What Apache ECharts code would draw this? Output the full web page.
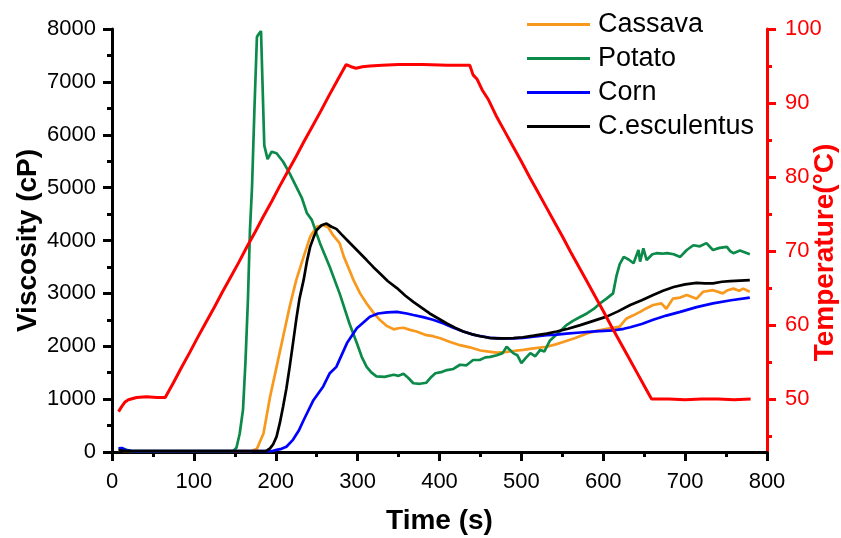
<!DOCTYPE html>
<html>
<head>
<meta charset="utf-8">
<title>Viscosity and temperature</title>
<script src="https://cdn.jsdelivr.net/npm/echarts@6/dist/echarts.min.js"></script>
<style>
  html, body { margin: 0; padding: 0; background: #fff; }
  #chart { width: 841px; height: 538px; }
</style>
</head>
<body>
<div id="chart"></div>
<script>
// [time (s), viscosity (cP)]
const cassava = [[8, 30], [15, 20], [100, 15], [170, 15], [177, 60], [185, 350], [193, 1040], [201, 1610],
  [209, 2180], [217, 2750], [225, 3250], [234, 3690], [242, 4070], [250, 4260], [258, 4290], [264, 4250],
  [270, 4100], [278, 3950], [283, 3700], [290, 3440], [295, 3250], [303, 3000], [311, 2810], [319, 2640],
  [327, 2500], [336, 2380], [344, 2320], [350, 2340], [356, 2350], [364, 2310], [372, 2280], [384, 2210],
  [392, 2190], [401, 2150], [413, 2080], [425, 2020], [437, 1980], [450, 1920], [460, 1900], [470, 1880],
  [480, 1890], [490, 1910], [502, 1930], [515, 1960], [531, 1990], [543, 2040], [551, 2080], [565, 2150],
  [580, 2240], [592, 2290], [604, 2330], [612, 2350], [620, 2370], [628, 2520], [636, 2580], [645, 2650],
  [653, 2720], [661, 2780], [671, 2810], [677, 2710], [685, 2900], [694, 2920], [702, 2970], [714, 2900],
  [722, 3030], [734, 3060], [746, 3000], [752, 3060], [759, 3090], [766, 3050], [771, 3090], [779, 3030]]

const potato = [[8, 60], [12, 70], [18, 40], [25, 15], [100, 15], [148, 15], [152, 80], [156, 350], [160, 800],
  [163, 1700], [166, 2870], [168.5, 4200], [171, 5000], [174, 6500], [177, 7850], [179, 7900], [182, 7960],
  [186, 5800], [190, 5540], [195, 5680], [201, 5650], [209, 5490], [217, 5270], [225, 5020], [232, 4800],
  [238, 4520], [244, 4390], [254, 3950], [266, 3500], [278, 3000], [290, 2430], [299, 2060], [305, 1800],
  [311, 1610], [317, 1500], [323, 1430], [333, 1420], [344, 1460], [350, 1440], [356, 1480], [362, 1400],
  [368, 1300], [376, 1290], [384, 1310], [390, 1420], [395, 1490], [402, 1510], [409, 1550], [417, 1570],
  [425, 1650], [433, 1640], [441, 1740], [449, 1740], [456, 1790], [462, 1800], [470, 1830], [477, 1870],
  [482, 1990], [490, 1870], [495, 1830], [500, 1680], [506, 1790], [511, 1870], [517, 1810], [523, 1930],
  [528, 1900], [535, 2110], [545, 2250], [555, 2400], [563, 2480], [570, 2540], [580, 2620], [588, 2700],
  [596, 2810], [604, 2900], [612, 3000], [616, 3320], [620, 3550], [625, 3690], [631, 3640], [637, 3570],
  [643, 3820], [645, 3600], [649, 3850], [653, 3630], [660, 3740], [665, 3760], [672, 3750], [678, 3760],
  [686, 3740], [694, 3690], [702, 3820], [710, 3910], [718, 3890], [726, 3950], [734, 3820], [742, 3860],
  [751, 3880], [755, 3800], [759, 3760], [767, 3810], [779, 3740]]

const corn = [[8, 70], [12, 75], [17, 30], [25, 15], [195, 15], [201, 40], [207, 60], [213, 100], [221, 230],
  [228, 400], [234, 600], [246, 980], [258, 1240], [266, 1490], [274, 1610], [287, 2060], [299, 2340],
  [315, 2560], [325, 2620], [336, 2640], [348, 2650], [360, 2620], [368, 2590], [380, 2550], [392, 2500],
  [405, 2430], [417, 2350], [429, 2280], [441, 2220], [450, 2190], [462, 2160], [476, 2150], [490, 2150],
  [502, 2160], [515, 2180], [531, 2210], [543, 2220], [555, 2240], [572, 2260], [590, 2280], [612, 2300],
  [625, 2330], [633, 2360], [647, 2420], [661, 2500], [677, 2580], [694, 2650], [714, 2740], [734, 2810],
  [756, 2870], [779, 2920]]

const esculentus = [[8, 30], [15, 20], [100, 15], [188, 15], [193, 70], [197, 150], [201, 290], [205, 550],
  [209, 860], [213, 1200], [217, 1610], [221, 2050], [225, 2500], [229, 2900], [234, 3250], [238, 3600],
  [242, 3880], [246, 4050], [250, 4200], [256, 4290], [262, 4320], [268, 4260], [274, 4220], [280, 4120],
  [287, 4010], [299, 3820], [311, 3630], [319, 3500], [327, 3380], [337, 3230], [348, 3100], [358, 2960],
  [368, 2840], [378, 2730], [388, 2620], [398, 2530], [409, 2430], [419, 2350], [429, 2280], [439, 2230],
  [450, 2190], [460, 2160], [470, 2150], [480, 2150], [490, 2155], [502, 2170], [515, 2200], [531, 2240],
  [543, 2280], [557, 2330], [572, 2400], [588, 2480], [604, 2560], [618, 2660], [633, 2780], [647, 2870],
  [661, 2970], [673, 3050], [686, 3120], [700, 3170], [714, 3200], [724, 3190], [734, 3190], [745, 3220],
  [755, 3230], [767, 3240], [779, 3250]]

// [time (s), temperature (°C)]
const temperature = [[8, 48.3], [12, 49.0], [16, 49.6], [20, 49.9], [30, 50.2], [42, 50.3], [55, 50.2],
  [65, 50.2], [75, 52.2], [85, 54.3], [95, 56.3], [105, 58.4], [115, 60.4], [125, 62.4], [135, 64.5],
  [145, 66.5], [155, 68.5], [165, 70.6], [175, 72.6], [185, 74.7], [195, 76.7], [205, 78.8], [215, 80.8],
  [225, 82.8], [235, 84.9], [245, 86.9], [255, 88.9], [265, 91.0], [275, 93.0], [286, 95.2], [292, 94.9],
  [298, 94.7], [306, 94.9], [315, 95.0], [330, 95.1], [350, 95.2], [380, 95.2], [410, 95.1], [437, 95.1],
  [441, 93.8], [446, 93.2], [452, 91.8], [460, 90.4], [470, 88.1], [480, 86.1], [490, 84.1], [500, 82.1],
  [510, 80.0], [520, 78.0], [530, 76.0], [540, 74.0], [550, 72.0], [560, 69.9], [570, 67.9], [580, 65.9],
  [590, 63.9], [600, 61.9], [610, 59.8], [620, 57.8], [630, 55.8], [640, 53.8], [650, 51.8], [659, 50.0],
  [680, 50.0], [700, 49.9], [720, 50.0], [740, 50.0], [760, 49.9], [780, 50.0]]

const tempTicks = [50, 60, 70, 80, 90, 100]
const tempMinorTicks = [45, 55, 65, 75, 85, 95]

const font = 'Liberation Sans, Arial, sans-serif'
const colors = ['#f8981d', '#0b8a4a', '#0000ff', '#000000']

const chart = echarts.init(document.getElementById('chart'))

const lineSeries = (name, data, color, width) => ({
  name,
  type: 'line',
  data,
  showSymbol: false,
  symbol: 'none',
  lineStyle: { color, width: width || 2.7 },
  itemStyle: { color },
  animation: false
})

chart.setOption({
  backgroundColor: '#fff',
  grid: { left: 112, right: 74, top: 29, bottom: 86, outerBoundsMode: 'none', containLabel: false },
  legend: {
    orient: 'vertical',
    left: 522,
    top: 6,
    icon: 'rect',
    itemWidth: 63,
    itemHeight: 3,
    itemGap: 7,
    textStyle: { fontFamily: font, fontSize: 27, color: '#000', padding: [0, 0, 0, 3] },
    data: ['Cassava', 'Potato', 'Corn', 'C.esculentus']
  },
  xAxis: {
    type: 'value',
    min: 0,
    max: 800,
    interval: 100,
    name: 'Time (s)',
    nameLocation: 'middle',
    nameGap: 55,
    nameMoveOverlap: false,
    nameTextStyle: { fontFamily: font, fontSize: 28, fontWeight: 'bold', color: '#000' },
    axisLine: { onZero: false, lineStyle: { color: '#000', width: 3 } },
    axisTick: { length: 9, lineStyle: { color: '#000', width: 3 } },
    minorTick: { show: true, splitNumber: 2, length: 5, lineStyle: { color: '#000', width: 3 } },
    axisLabel: { fontFamily: font, fontSize: 22, color: '#000', margin: 19, formatter: v => String(v) },
    splitLine: { show: false }
  },
  yAxis: [{
    type: 'value',
    min: 0,
    max: 8000,
    interval: 1000,
    name: 'Viscosity (cP)',
    nameLocation: 'middle',
    nameGap: 70,
    nameMoveOverlap: false,
    nameTextStyle: { fontFamily: font, fontSize: 28, fontWeight: 'bold', color: '#000' },
    axisLine: { show: true, lineStyle: { color: '#000', width: 3 } },
    axisTick: { show: true, length: 9, lineStyle: { color: '#000', width: 3 } },
    minorTick: { show: true, splitNumber: 2, length: 5, lineStyle: { color: '#000', width: 3 } },
    axisLabel: { fontFamily: font, fontSize: 22, color: '#000', margin: 16, formatter: v => String(v) },
    splitLine: { show: false }
  }, {
    type: 'value',
    position: 'right',
    min: 42.84,
    max: 100,
    name: 'Temperature(°C)',
    nameLocation: 'middle',
    nameGap: 44,
    nameRotate: 90,
    nameMoveOverlap: false,
    nameTextStyle: { fontFamily: font, fontSize: 28, fontWeight: 'bold', color: '#ff0000', padding: [0, 24, 0, 0] },
    axisLine: { show: true, lineStyle: { color: '#ff0000', width: 3 } },
    axisTick: { show: true, length: 9, customValues: tempTicks, lineStyle: { color: '#ff0000', width: 3 } },
    axisLabel: { fontFamily: font, fontSize: 22, color: '#ff0000', margin: 18, customValues: tempTicks },
    splitLine: { show: false }
  }, {
    // minor ticks of the temperature axis
    type: 'value',
    position: 'right',
    min: 42.84,
    max: 100,
    axisLine: { show: false },
    axisTick: { show: true, length: 5, customValues: tempMinorTicks, lineStyle: { color: '#ff0000', width: 3 } },
    axisLabel: { show: true, customValues: tempMinorTicks, formatter: () => '' },
    splitLine: { show: false }
  }],
  series: [
    lineSeries('Cassava', cassava, colors[0]),
    lineSeries('Potato', potato, colors[1]),
    lineSeries('Corn', corn, colors[2]),
    lineSeries('C.esculentus', esculentus, colors[3]),
    Object.assign(lineSeries('Temperature', temperature, '#ff0000', 3), { yAxisIndex: 1 })
  ]
})
</script>
</body>
</html>
